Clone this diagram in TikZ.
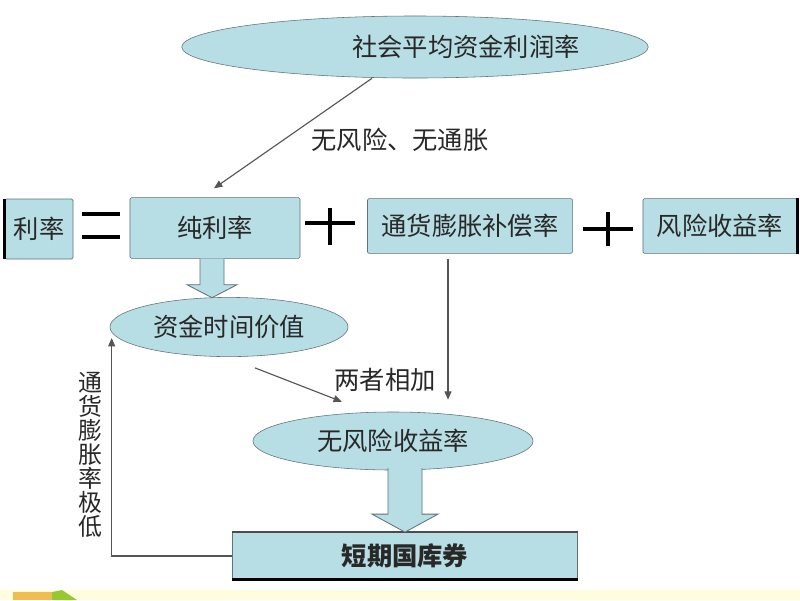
\documentclass[tikz,border=0pt]{standalone}
\usepackage{fontspec}
\setmainfont{Noto Sans CJK SC}
\usetikzlibrary{calc,arrows.meta,shapes.geometric}
\definecolor{boxfill}{RGB}{183,222,228}
\definecolor{edgegray}{RGB}{95,115,120}
\definecolor{linegray}{RGB}{85,85,85}
\definecolor{inkgray}{RGB}{40,40,40}
\definecolor{stripyellow}{RGB}{255,253,222}
\definecolor{wedgeorange}{RGB}{240,190,80}
\definecolor{wedgegreen}{RGB}{150,200,50}

\begin{document}
\begin{tikzpicture}[
            x=0.025cm, y=-0.025cm,
            every node/.style={text=inkgray, font=\fontsize{18}{22}\selectfont},
            ratebox/.style={draw=edgegray, fill=boxfill, rounded corners=1pt, inner sep=0pt},
            oval/.style={ellipse, draw=edgegray, fill=boxfill, inner sep=0pt},
            thinarrow/.style={draw=linegray, line width=0.8pt, -{Triangle[length=6pt,width=5pt]}},
            sign/.style={black, line width=2.2pt},
            fatarrow/.style={draw=edgegray, fill=boxfill, line width=0.6pt}
        ]
        \useasboundingbox[fill=white] (0,0) rectangle (800,600);
        \fill[stripyellow] (0,590) rectangle (800,600);
        \fill[wedgeorange] (13,592) rectangle (52,600);
        \fill[wedgegreen] (52,592) -- (62,590) -- (77,600) -- (52,600) -- cycle;

        \node[oval, minimum width=11cm, minimum height=1.55cm] (avg) at (415,47) {\hspace*{2.55cm}社会平均资金利润率};

        \node[ratebox, minimum width=1.7cm, minimum height=1.5cm] (rate) at (39,229) {利率};
        \node[ratebox, minimum width=4.25cm, minimum height=1.52cm] (pure) at (215,228) {纯利率};
        \node[ratebox, minimum width=5.125cm, minimum height=1.37cm] (infl) at (470,226) {通货膨胀补偿率};
        \node[ratebox, minimum width=3.85cm, minimum height=1.37cm] (risk) at (720,226) {风险收益率};

        \node[oval, minimum width=5.95cm, minimum height=1.48cm] (tv) at (229,327) {资金时间价值};
        \node[oval, minimum width=7cm, minimum height=1.45cm] (rf) at (393,441) {无风险收益率};
        \node[ratebox, rounded corners=0pt, minimum width=8.625cm, minimum height=1.18cm] (tb) at (405,556) {\bfseries 短期国库券};

        \draw[black, line width=2pt] (rate.north west) -- (rate.south west);
        \draw[black, line width=2pt] (risk.north east) -- (risk.south east);
        \draw[black, line width=2pt] (tb.south west) -- (tb.south east);
        \draw[black!70, line width=1pt] (tb.north west) -- (tb.north east);

        \draw[sign] (82,214) -- (120,214);
        \draw[sign] (82,237) -- (120,237);
        \draw[sign] (305,223) -- (355,223);
        \draw[sign] (330,208) -- (330,245);
        \draw[sign] (583,229) -- (633,229);
        \draw[sign] (608,212) -- (608,246);

        \coordinate (a1) at ($(pure.south)+(-3,0)$);
        \filldraw[fatarrow] ($(a1)+(-12,0)$) -- ($(a1)+(-12,26)$) -- ($(a1)+(-25,26)$)
            -- ($(a1)+(0,39)$) -- ($(a1)+(25,26)$) -- ($(a1)+(12,26)$) -- ($(a1)+(12,0)$);
        \coordinate (a2) at (tb.north);
        \filldraw[fatarrow] ($(a2)+(-17,-64)$) -- ($(a2)+(-17,-18)$) -- ($(a2)+(-33,-18)$)
            -- (a2) -- ($(a2)+(33,-18)$) -- ($(a2)+(17,-18)$) -- ($(a2)+(17,-64)$);

        \draw[thinarrow] ($(avg.south)+(-43,0)$) -- ($(pure.north)+(-1,-9)$);
        \node (nolabel) at (400,140) {无风险、无通胀};

        \coordinate (ib) at ($(infl.south)+(-22,0)$);
        \draw[thinarrow, shorten >=0.3cm] ($(ib)+(0,5)$) -- (ib |- rf.north);
        \draw[thinarrow] ($(tv.south)+(26,11)$) -- ($(rf.north)+(-51,-10)$);
        \node (sumlabel) at (385,380) {两者相加};

        \draw[thinarrow] (tb.west) -| ($(tv.west)+(2,11)$);
        \node[align=center, font=\fontsize{17}{17}\selectfont] (lowlabel) at (90,455)
            {通\\货\\膨\\胀\\率\\极\\低};
    \end{tikzpicture}
\end{document}
